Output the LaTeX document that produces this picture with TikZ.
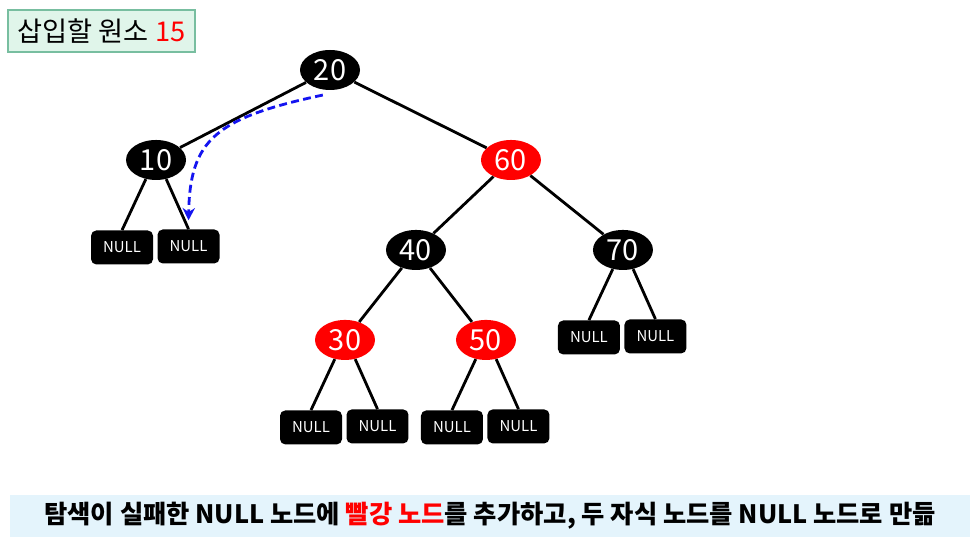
\documentclass[tikz,border=0pt]{standalone}
\usepackage{fontspec}
\setmainfont{Noto Sans CJK KR}
\usepackage{xcolor}
\usetikzlibrary{shapes.geometric, arrows.meta, positioning}
\definecolor{keyred}{RGB}{255, 0, 0}
\definecolor{titlefill}{RGB}{224, 245, 234}
\definecolor{titledraw}{RGB}{120, 190, 160}
\definecolor{bannerfill}{RGB}{228, 244, 252}
\definecolor{probeblue}{RGB}{20, 20, 240}

\begin{document}
\begin{tikzpicture}[
    x=0.02cm, y=-0.02cm,
    node distance=1.8cm,
    blackkey/.style={ellipse, fill=black, text=white, minimum width=1.2cm, minimum height=0.8cm, inner sep=0pt, font=\fontsize{16.5}{16.5}\selectfont},
    redkey/.style={blackkey, fill=keyred},
    nullleaf/.style={rectangle, fill=black, text=white, rounded corners=3pt, minimum width=1.24cm, minimum height=0.68cm, inner sep=0pt, font=\fontsize{8.5}{8.5}\selectfont},
    tline/.style={draw=black, line width=1.6pt},
    probe/.style={draw=probeblue, line width=1.6pt, dash pattern=on 4.5pt off 2.5pt, -{Stealth[length=7pt, width=7pt]}}
]
    \useasboundingbox (0,0) rectangle (979,543);

    \node [rectangle, fill=titlefill, draw=titledraw, line width=1pt, minimum width=3.74cm, minimum height=0.84cm, inner sep=0pt, font=\fontsize{15.5}{15.5}\selectfont] (title) at (101.5,31) {삽입할 원소 \textcolor{keyred}{15}};

    \node [blackkey] (n20) at (330,70) {20};
    \node [blackkey, on grid, below left=1.8cm and 3.48cm of n20] (n10) {10};
    \node [redkey, on grid, below right=1.8cm and 3.62cm of n20] (n60) {60};
    \node [blackkey, on grid, below left=1.8cm and 1.9cm of n60] (n40) {40};
    \node [blackkey, on grid, below right=1.8cm and 2.24cm of n60] (n70) {70};
    \node [redkey, on grid, below left=1.8cm and 1.42cm of n40] (n30) {30};
    \node [redkey, on grid, below right=1.8cm and 1.4cm of n40] (n50) {50};

    \node [nullleaf, on grid, below left=1.75cm and 0.68cm of n10] (l10a) {NULL};
    \node [nullleaf, on grid, below right=1.73cm and 0.65cm of n10] (l10b) {NULL};
    \node [nullleaf, on grid, below left=1.75cm and 0.68cm of n70] (l70a) {NULL};
    \node [nullleaf, on grid, below right=1.73cm and 0.65cm of n70] (l70b) {NULL};
    \node [nullleaf, on grid, below left=1.75cm and 0.68cm of n30] (l30a) {NULL};
    \node [nullleaf, on grid, below right=1.73cm and 0.65cm of n30] (l30b) {NULL};
    \node [nullleaf, on grid, below left=1.75cm and 0.68cm of n50] (l50a) {NULL};
    \node [nullleaf, on grid, below right=1.73cm and 0.65cm of n50] (l50b) {NULL};

    \path [tline] (n20) -- (n10);
    \path [tline] (n20) -- (n60);
    \path [tline] (n60) -- (n40);
    \path [tline] (n60) -- (n70);
    \path [tline] (n40) -- (n30);
    \path [tline] (n40) -- (n50);
    \foreach \p in {10,70,30,50} {
        \path [tline] (n\p.242) -- (l\p a.north);
        \path [tline] (n\p.298) -- (l\p b.north);
    }

    % search path down to the empty slot
    \coordinate (probestart) at ([yshift=-3pt]n20.250);
    \coordinate (probeend) at ([yshift=5pt]l10b.north);
    \draw [probe] (probestart) .. controls (215,118) and (190,140) .. (probeend);

    \node [rectangle, fill=bannerfill, minimum width=19.2cm, minimum height=0.84cm, inner sep=0pt, font=\fontsize{14.4}{14.4}\selectfont\bfseries] (banner) at (490,516) {탐색이 실패한 NULL 노드에 \textcolor{keyred}{빨강 노드}를 추가하고, 두 자식 노드를 NULL 노드로 만듦};
\end{tikzpicture}
\end{document}
